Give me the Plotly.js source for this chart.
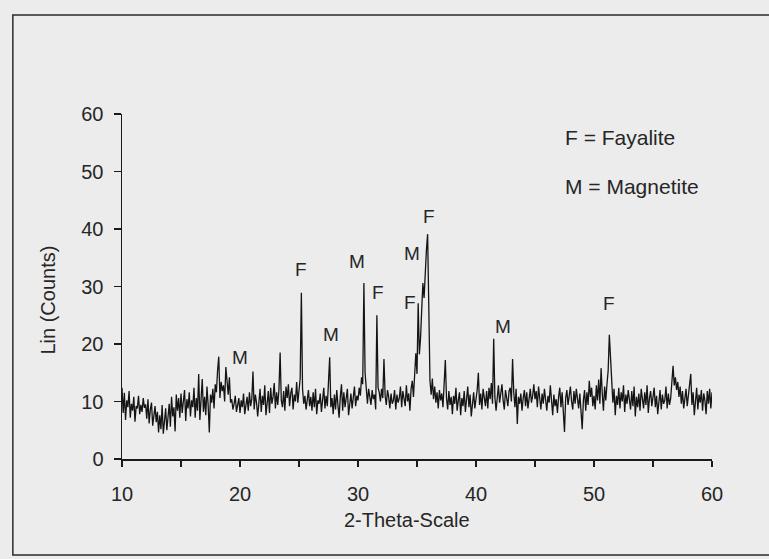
<!DOCTYPE html>
<html>
<head>
<meta charset="utf-8">
<script src="https://cdn.plot.ly/plotly-3.0.1.min.js"></script>
<style>html,body{margin:0;padding:0;background:#ececec;}#chart{width:769px;height:559px;}</style>
</head>
<body>
<div id="chart"></div>
<script>
// XRD scan: 2-theta from 10 to 60 in 0.1 degree steps (one row = 1 degree)
const scanStart = 10;
const scanStep = 0.1;
const counts = [
  12.4, 8.0, 11.5, 6.8, 10.2, 9.0, 11.8, 7.2, 9.6, 8.4,
  10.8, 6.5, 9.2, 8.8, 11.0, 7.8, 9.4, 8.2, 10.6, 8.9,
  9.5, 7.0, 10.4, 6.2, 8.6, 9.8, 5.8, 8.0, 9.2, 6.4,
  8.2, 4.6, 7.6, 5.2, 9.4, 4.4, 7.0, 8.8, 5.0, 7.8,
  9.6, 5.6, 10.8, 7.4, 9.0, 4.8, 11.2, 8.4, 10.6, 7.2,
  11.4, 8.0, 9.8, 12.0, 6.6, 10.4, 8.8, 11.6, 7.4, 10.2,
  9.0, 12.4, 7.2, 10.6, 8.4, 14.8, 6.8, 11.0, 13.9, 8.2,
  10.8, 7.6, 12.6, 9.4, 4.6, 11.2, 9.8, 12.2, 8.8, 13.0,
  11.6, 15.4, 17.8, 10.6, 13.4, 11.8, 12.8, 10.0, 16.0, 13.6,
  11.2, 14.2, 9.8, 10.4, 8.6, 9.6, 11.0, 8.2, 9.4, 10.6,
  8.0, 10.2, 9.0, 11.4, 7.8, 9.6, 10.8, 8.4, 11.6, 9.2,
  10.4, 15.2, 8.6, 11.2, 9.8, 7.4, 10.6, 12.2, 8.2, 11.0,
  9.4, 12.8, 7.6, 10.2, 11.8, 8.0, 12.4, 9.6, 10.8, 13.2,
  8.8, 11.6, 9.4, 12.0, 18.5, 10.2, 9.0, 11.8, 8.4, 12.6,
  10.6, 13.0, 9.2, 11.4, 12.4, 8.6, 11.2, 10.0, 13.4, 9.8,
  11.8, 14.0, 28.9, 12.2, 9.6, 11.0, 8.6, 10.4, 12.0, 9.2,
  10.8, 8.4, 11.6, 9.0, 12.2, 7.8, 10.2, 9.6, 11.4, 8.2,
  10.0, 12.4, 8.8, 11.0, 9.2, 13.2, 17.7, 9.0, 10.6, 7.8,
  11.2, 8.6, 12.0, 9.4, 7.2, 10.8, 13.0, 8.4, 11.6, 9.0,
  10.4, 12.2, 7.6, 9.8, 11.4, 8.8, 10.6, 12.6, 9.2, 11.0,
  10.2, 12.4, 11.0, 14.2, 13.0, 30.6, 15.0, 11.8, 9.6, 12.2,
  10.8, 9.4, 12.0, 10.4, 11.2, 8.6, 25.0, 12.4, 11.6, 10.0,
  12.2, 10.6, 17.4, 11.0, 9.4, 12.0, 10.8, 8.8, 11.4, 9.6,
  10.2, 12.0, 8.6, 11.2, 9.8, 10.6, 12.6, 9.0, 11.8, 10.4,
  9.2, 12.8, 10.0, 11.4, 8.4, 12.2, 13.6, 10.8, 15.2, 18.4,
  14.8, 27.1, 18.2, 21.0, 26.0, 30.6, 28.0, 33.0, 36.4, 39.1,
  21.5, 13.6, 11.2, 14.0, 10.4, 12.6, 9.8, 11.6, 8.8, 12.0,
  10.2, 11.4, 9.0, 12.2, 17.2, 10.6, 8.6, 11.8, 9.4, 10.8,
  7.8, 11.0, 9.6, 12.4, 8.4, 10.2, 11.6, 7.6, 10.6, 9.2,
  11.8, 8.2, 10.4, 12.6, 9.0, 11.2, 7.4, 10.0, 11.6, 8.8,
  10.6, 12.0, 15.0, 9.4, 11.4, 8.6, 12.2, 10.0, 9.2, 11.8,
  8.8, 12.4, 10.4, 13.2, 9.6, 20.9, 10.8, 8.4, 11.6, 12.8,
  9.8, 11.4, 13.0, 10.2, 8.6, 12.0, 10.6, 9.2, 11.8, 12.4,
  10.0, 17.4, 11.6, 9.0, 12.2, 6.1, 10.8, 9.6, 11.4, 8.4,
  10.6, 12.0, 9.2, 11.6, 8.8, 10.4, 12.2, 9.8, 11.0, 13.0,
  10.4, 11.8, 9.0, 12.6, 10.2, 8.6, 11.4, 9.6, 12.2, 10.0,
  8.4, 11.0, 9.8, 12.8, 10.6, 7.6, 11.2, 9.2, 10.4, 8.0,
  10.8, 12.4, 9.0, 11.6, 8.2, 4.7, 10.6, 12.0, 9.4, 11.2,
  12.6, 10.0, 8.6, 11.8, 9.6, 12.2, 10.4, 8.8, 11.4, 9.0,
  5.2, 10.2, 12.0, 8.4, 11.6, 9.4, 13.6, 10.8, 12.4, 9.2,
  11.0, 8.6, 12.8, 10.2, 13.8, 9.6, 15.8, 11.4, 8.4, 12.6,
  10.2, 13.0, 15.4, 21.6, 17.8, 13.4, 9.8, 12.2, 7.6, 11.0,
  9.4, 12.4, 8.8, 11.6, 10.0, 12.8, 8.2, 11.2, 9.6, 12.0,
  10.4, 8.6, 11.8, 9.2, 12.6, 7.4, 10.8, 9.0, 11.4, 8.4,
  12.2, 10.0, 8.8, 11.6, 9.4, 12.8, 8.0, 10.6, 11.8, 9.2,
  10.8, 12.4, 9.0, 11.0, 7.8, 10.4, 12.0, 8.6, 11.2, 9.6,
  10.2, 12.6, 8.8, 11.4, 9.4, 10.6, 13.0, 16.2, 12.8, 14.2,
  12.0, 13.4, 10.8, 12.6, 9.6, 11.8, 8.8, 10.4, 12.2, 9.2,
  11.0, 12.8, 14.8, 9.4, 11.6, 7.6, 10.8, 12.4, 8.6, 11.2,
  9.8, 12.0, 8.4, 11.4, 10.2, 7.8, 11.8, 9.6, 12.2, 8.8,
  11.6
];
const twoTheta = counts.map((_, i) => +(scanStart + i * scanStep).toFixed(2));

// Phase labels above peaks
const peakLabels = ["M", "F", "M", "M", "F", "F", "M", "F", "M", "F"];
const peakLabelX = [20.0, 25.17, 27.75, 29.92, 31.69, 34.41, 34.58, 36.02, 42.33, 51.23];
const peakLabelY = [17.7, 32.9, 21.7, 34.4, 28.9, 27.3, 35.8, 42.1, 23.0, 27.1];

// Key text
const keyLines = ["F = Fayalite", "M = Magnetite"];
const keyX = [47.35, 47.35];
const keyY = [56.0, 47.4];

const xTicks = [10, 20, 30, 40, 50, 60];
const yTicks = [0, 10, 20, 30, 40, 50, 60];

const FONT = "'Liberation Sans', Arial, sans-serif";
const TXT = "#262626";

const annotations = [];
peakLabels.forEach((t, i) => annotations.push({
  x: peakLabelX[i], y: peakLabelY[i], xref: "x", yref: "y", text: t,
  xanchor: "center", yanchor: "middle",
  showarrow: false, font: {family: FONT, size: 19, color: TXT}
}));
keyLines.forEach((t, i) => annotations.push({
  x: keyX[i], y: keyY[i], xref: "x", yref: "y", text: t, xanchor: "left", yanchor: "middle",
  showarrow: false, font: {family: FONT, size: 21, color: TXT}
}));
annotations.push({
  x: 0.483, y: -0.177, xref: "paper", yref: "paper", text: "2-Theta-Scale",
  xanchor: "center", yanchor: "middle",
  showarrow: false, font: {family: FONT, size: 20, color: TXT}
});
annotations.push({
  x: -0.125, y: 0.46, xref: "paper", yref: "paper", text: "Lin (Counts)", textangle: -90,
  xanchor: "center", yanchor: "middle",
  showarrow: false, font: {family: FONT, size: 20, color: TXT}
});

const trace = {
  x: twoTheta, y: counts, type: "scatter", mode: "lines",
  line: {color: "#141414", width: 1.3}, hoverinfo: "skip", showlegend: false
};

const layout = {
  width: 769, height: 559,
  margin: {l: 122, r: 57, t: 114, b: 100},
  paper_bgcolor: "#ececec", plot_bgcolor: "#ececec",
  showlegend: false,
  font: {family: FONT, size: 20, color: TXT},
  xaxis: {
    range: [10, 60], tickvals: xTicks, ticktext: xTicks.map(String),
    showgrid: false, zeroline: false, showline: true, linecolor: "#1a1a1a", linewidth: 1.5,
    ticks: "outside", ticklen: 6, tickwidth: 1.5, tickcolor: "#1a1a1a",
    ticklabelstandoff: 10,
    minor: {dtick: 5, tick0: 10, ticks: "outside", ticklen: 6, tickwidth: 1.5, tickcolor: "#1a1a1a", showgrid: false},
    tickfont: {family: FONT, size: 20, color: TXT}
  },
  yaxis: {
    range: [0, 60], tickvals: yTicks, ticktext: yTicks.map(String),
    showgrid: false, zeroline: false, showline: true, linecolor: "#1a1a1a", linewidth: 1.5,
    ticks: "outside", ticklen: 7, tickwidth: 1.5, tickcolor: "#1a1a1a",
    ticklabelstandoff: 6,
    tickfont: {family: FONT, size: 20, color: TXT}
  },
  annotations: annotations,
  shapes: [{
    type: "rect", xref: "paper", yref: "paper",
    x0: -0.185, x1: 1.12, y0: -0.278, y1: 1.287,
    line: {color: "#2a2a2a", width: 1.5}, fillcolor: "rgba(0,0,0,0)", layer: "below"
  }]
};

Plotly.newPlot("chart", [trace], layout, {displayModeBar: false, staticPlot: true});
</script>
</body>
</html>
